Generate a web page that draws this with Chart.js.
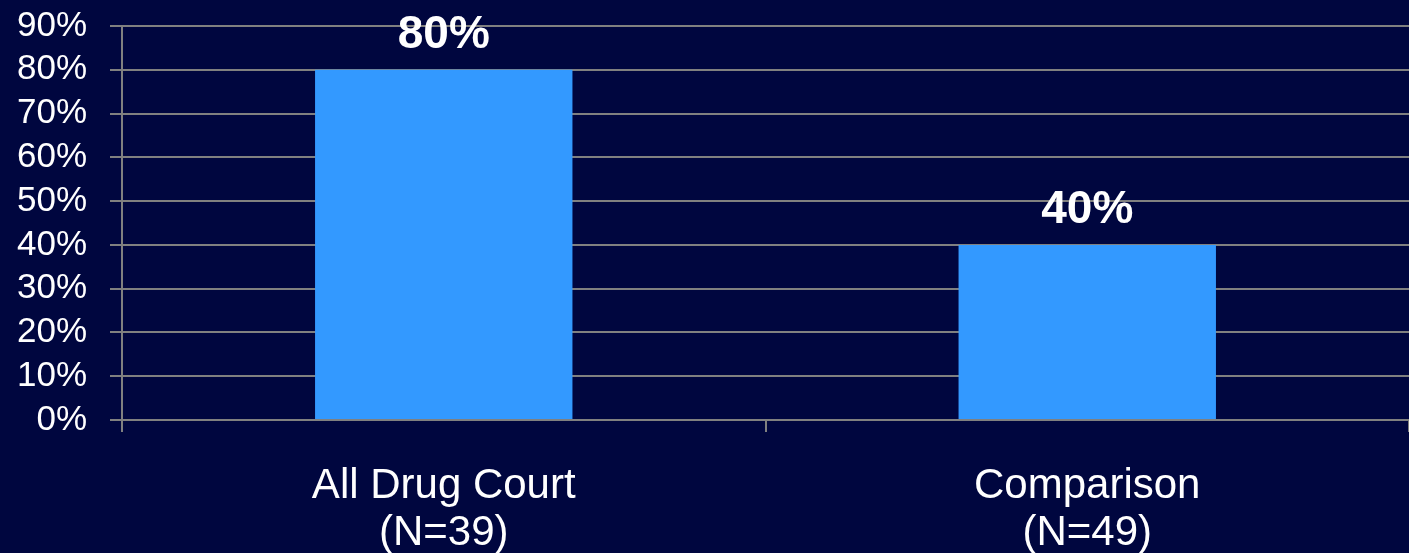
<!DOCTYPE html>
<html>
<head>
<meta charset="utf-8">
<script src="https://cdn.jsdelivr.net/npm/chart.js@4"></script>
<style>
  html, body { margin: 0; padding: 0; background: #00063f; }
  #wrap { width: 1409px; height: 553px; position: relative; }
</style>
</head>
<body>
<div id="wrap"><canvas id="chart"></canvas></div>
<script>
const categories = [["All Drug Court", "(N=39)"], ["Comparison", "(N=49)"]];
const values = [80, 40];
const yTicks = [0, 10, 20, 30, 40, 50, 60, 70, 80, 90];

const gridColor = "#808080";
const font = "'Liberation Sans', Arial, sans-serif";

// draw the percentage above each bar
const barLabels = {
  id: "barLabels",
  afterDatasetsDraw(chart) {
    const ctx = chart.ctx;
    const meta = chart.getDatasetMeta(0);
    ctx.save();
    ctx.fillStyle = "#ffffff";
    ctx.font = "bold 46px " + font;
    ctx.textAlign = "center";
    ctx.textBaseline = "alphabetic";
    meta.data.forEach((bar, i) => {
      ctx.fillText(values[i] + "%", bar.x, bar.y - 22);
    });
    ctx.restore();
  }
};

new Chart(document.getElementById("chart"), {
  type: "bar",
  data: {
    labels: categories,
    datasets: [{
      data: values,
      backgroundColor: "#3399ff",
      barPercentage: 0.8,
      categoryPercentage: 0.5
    }]
  },
  options: {
    responsive: true,
    maintainAspectRatio: false,
    animation: false,
    layout: { padding: { top: 26, right: 0, left: 0, bottom: 0 } },
    plugins: {
      legend: { display: false },
      tooltip: { enabled: false }
    },
    scales: {
      x: {
        offset: true,
        grid: {
          offset: true,
          drawOnChartArea: false,
          color: gridColor,
          lineWidth: 2,
          tickLength: 12
        },
        border: { display: false },
        ticks: {
          color: "#ffffff",
          font: { family: font, size: 42, lineHeight: 1.12 },
          padding: 31,
          maxRotation: 0
        },
        afterFit(scale) { scale.height = 133; }
      },
      y: {
        min: 0,
        max: 90,
        afterBuildTicks(scale) { scale.ticks = yTicks.map(v => ({ value: v })); },
        grid: {
          color: gridColor,
          lineWidth: 2,
          tickLength: 12
        },
        border: { color: gridColor, width: 2 },
        ticks: {
          color: "#ffffff",
          font: { family: font, size: 35 },
          padding: 23,
          autoSkip: false,
          callback: v => v + "%"
        },
        afterFit(scale) {
          scale.width = 122;
          scale.paddingTop = 0;
          scale.paddingBottom = 0;
        }
      }
    }
  },
  plugins: [barLabels]
});
</script>
</body>
</html>
